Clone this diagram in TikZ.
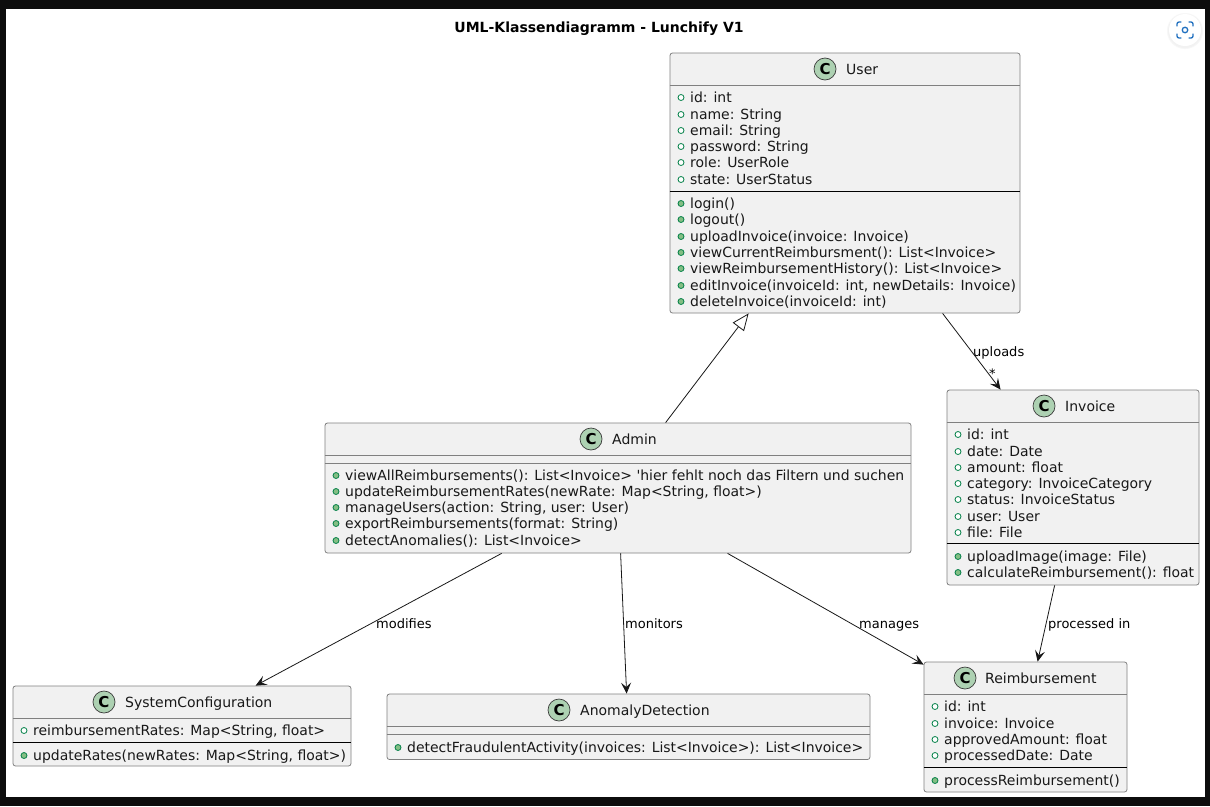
\documentclass[tikz,border=0pt]{standalone}
\usepackage{fontspec}
\setmainfont{DejaVu Sans}
\usetikzlibrary{arrows.meta,calc}
\definecolor{frameblack}{HTML}{0D0D0D}
\definecolor{boxfill}{HTML}{F1F1F1}
\definecolor{boxline}{HTML}{808080}
\definecolor{circlegreen}{HTML}{ADD1B2}
\definecolor{bulletline}{HTML}{038048}
\definecolor{bulletfill}{HTML}{84BE84}
\definecolor{icon}{HTML}{1F6FBF}
\definecolor{ink}{HTML}{181818}
\newcounter{rowno}
\tikzset{
  x=1pt,y=-1pt,
  classbox/.style={draw=boxline,fill=boxfill,line width=0.8pt,rounded corners=2.5pt,inner sep=0pt},
  rowtext/.style={anchor=base west,inner sep=0pt,text=ink,font=\fontsize{13.96}{16}\selectfont},
  nametext/.style={anchor=base west,inner sep=0pt,text=ink,font=\fontsize{14}{16}\selectfont},
  badge/.style={circle,draw=ink!85,fill=circlegreen,line width=0.7pt,minimum size=22pt,inner sep=0pt,text=black,font=\fontsize{15}{15}\selectfont\bfseries},
  attrdot/.style={circle,draw=bulletline,fill=white,line width=0.8pt,minimum size=6pt,inner sep=0pt},
  opdot/.style={circle,draw=bulletline,fill=bulletfill,line width=0.8pt,minimum size=6pt,inner sep=0pt},
  graysep/.style={draw=boxline,line width=0.8pt},
  blacksep/.style={draw=black,line width=0.8pt},
  assoc/.style={draw=ink,line width=0.8pt,-{Stealth[length=11pt,width=10pt,inset=4.5pt]}},
  inherit/.style={draw=ink,line width=0.8pt,-{Triangle[open,length=17pt,width=14pt,fill=white]}},
  edgelabel/.style={anchor=base west,inner sep=0pt,text=black,font=\fontsize{13}{15}\selectfont},
  iconline/.style={draw=icon,line width=1.3pt,line cap=round,rounded corners=2pt},
}
% name, x1, y1, x2, y2, title, badge x, title x, header y
\newcommand{\classnode}[9]{%
  \node[classbox,minimum width={(#4-#2)*1pt},minimum height={(#5-#3)*1pt}] (#1) at ({(#2+#4)/2},{(#3+#5)/2}) {};
  \node[badge] (#1badge) at (#7,{#3+16}) {C};
  \node[nametext] (#1name) at (#8,{#3+21}) {#6};
  \draw[graysep] (#1.west |- 0,#9) -- (#1.east |- 0,#9);
}
% style, x of box left, baseline, text
\newcommand{\rowline}[4]{%
  \stepcounter{rowno}%
  \node[#1] (dot\therowno) at ({#2+11},{#3-4.5}) {};
  \node[rowtext] (row\therowno) at ({#2+20},#3) {#4};
}
\begin{document}
\begin{tikzpicture}
\useasboundingbox (0,0) rectangle (1210,806);
\fill[frameblack] (0,0) rectangle (1210,806);
\fill[white] (6,9) rectangle (1205,797);
\node[anchor=base,inner sep=0pt,font=\fontsize{14}{16}\selectfont\bfseries] (title) at (599,32) {UML-Klassendiagramm - Lunchify V1};

% camera button
\fill[black!3] (1185,31) circle (18);
\fill[black!5] (1185,31) circle (17);
\node[circle,fill=white,minimum size=32pt,inner sep=0pt] (camera) at (1185,30) {};
\draw[iconline] (1177,26) -- (1177,22) -- (1181,22);
\draw[iconline] (1189,22) -- (1193,22) -- (1193,26);
\draw[iconline] (1193,34) -- (1193,38) -- (1189,38);
\draw[iconline] (1181,38) -- (1177,38) -- (1177,34);
\node[circle,draw=icon,line width=1.3pt,minimum size=5.5pt,inner sep=0pt] (lens) at (1185,30) {};

% User
\classnode{user}{670}{53}{1020}{313}{User}{825}{846}{85}
\rowline{attrdot}{670}{102}{id: int}
\rowline{attrdot}{670}{119}{name: String}
\rowline{attrdot}{670}{135}{email: String}
\rowline{attrdot}{670}{151}{password: String}
\rowline{attrdot}{670}{167}{role: UserRole}
\rowline{attrdot}{670}{184}{state: UserStatus}
\draw[blacksep] (user.west |- 0,191) -- (user.east |- 0,191);
\rowline{opdot}{670}{208}{login()}
\rowline{opdot}{670}{224}{logout()}
\rowline{opdot}{670}{241}{uploadInvoice(invoice: Invoice)}
\rowline{opdot}{670}{257}{viewCurrentReimbursment(): List<Invoice>}
\rowline{opdot}{670}{273}{viewReimbursementHistory(): List<Invoice>}
\rowline{opdot}{670}{290}{editInvoice(invoiceId: int, newDetails: Invoice)}
\rowline{opdot}{670}{306}{deleteInvoice(invoiceId: int)}

% Admin
\classnode{admin}{325}{423}{911}{553}{Admin}{591}{612}{455}
\draw[graysep] (admin.west |- 0,463) -- (admin.east |- 0,463);
\rowline{opdot}{325}{480}{viewAllReimbursements(): List<Invoice> \textquotesingle hier fehlt noch das Filtern und suchen}
\rowline{opdot}{325}{496}{updateReimbursementRates(newRate: Map<String, float>)}
\rowline{opdot}{325}{512}{manageUsers(action: String, user: User)}
\rowline{opdot}{325}{528}{exportReimbursements(format: String)}
\rowline{opdot}{325}{545}{detectAnomalies(): List<Invoice>}

% Invoice
\classnode{invoice}{947}{390}{1199}{585}{Invoice}{1044}{1065}{422}
\rowline{attrdot}{947}{439}{id: int}
\rowline{attrdot}{947}{456}{date: Date}
\rowline{attrdot}{947}{472}{amount: float}
\rowline{attrdot}{947}{488}{category: InvoiceCategory}
\rowline{attrdot}{947}{504}{status: InvoiceStatus}
\rowline{attrdot}{947}{521}{user: User}
\rowline{attrdot}{947}{537}{file: File}
\draw[blacksep] (invoice.west |- 0,543) -- (invoice.east |- 0,543);
\rowline{opdot}{947}{561}{uploadImage(image: File)}
\rowline{opdot}{947}{577}{calculateReimbursement(): float}

% Reimbursement
\classnode{reimb}{924}{662}{1127}{792}{Reimbursement}{965}{985}{694}
\rowline{attrdot}{924}{711}{id: int}
\rowline{attrdot}{924}{728}{invoice: Invoice}
\rowline{attrdot}{924}{744}{approvedAmount: float}
\rowline{attrdot}{924}{760}{processedDate: Date}
\draw[blacksep] (reimb.west |- 0,767) -- (reimb.east |- 0,767);
\rowline{opdot}{924}{785}{processReimbursement()}

% SystemConfiguration
\classnode{sysconf}{13}{686}{351}{766}{SystemConfiguration}{104}{125}{718.5}
\rowline{attrdot}{13}{735}{reimbursementRates: Map<String, float>}
\draw[blacksep] (sysconf.west |- 0,742) -- (sysconf.east |- 0,742);
\rowline{opdot}{13}{760}{updateRates(newRates: Map<String, float>)}

% AnomalyDetection
\classnode{anomaly}{387}{694}{870}{759.5}{AnomalyDetection}{559}{580}{726}
\draw[graysep] (anomaly.west |- 0,734) -- (anomaly.east |- 0,734);
\rowline{opdot}{387}{752}{detectFraudulentActivity(invoices: List<Invoice>): List<Invoice>}

% connectors
\draw[inherit] ($(admin.north west)+(341,0)$) -- ($(user.south west)+(79,0)$);
\draw[assoc] ($(user.south west)+(273,0)$) -- ($(invoice.north west)+(54,0)$);
\draw[assoc] ($(admin.south west)+(177,0)$) -- ($(sysconf.north west)+(243,0)$);
\draw[assoc] ($(admin.south west)+(296,0)$) -- ($(anomaly.north west)+(240,0)$);
\draw[assoc] ($(admin.south west)+(403,0)$) -- ($(reimb.north west)+(0,3)$);
\draw[assoc] ($(invoice.south west)+(108,0)$) -- ($(reimb.north west)+(114,0)$);

\node[edgelabel] (luploads) at (973,356) {uploads};
\node[edgelabel] (lstar) at (989,378) {*};
\node[edgelabel] (lmodifies) at (376,628) {modifies};
\node[edgelabel] (lmonitors) at (625,628) {monitors};
\node[edgelabel] (lmanages) at (859,628) {manages};
\node[edgelabel] (lprocessed) at (1048,628) {processed in};
\end{tikzpicture}
\end{document}
